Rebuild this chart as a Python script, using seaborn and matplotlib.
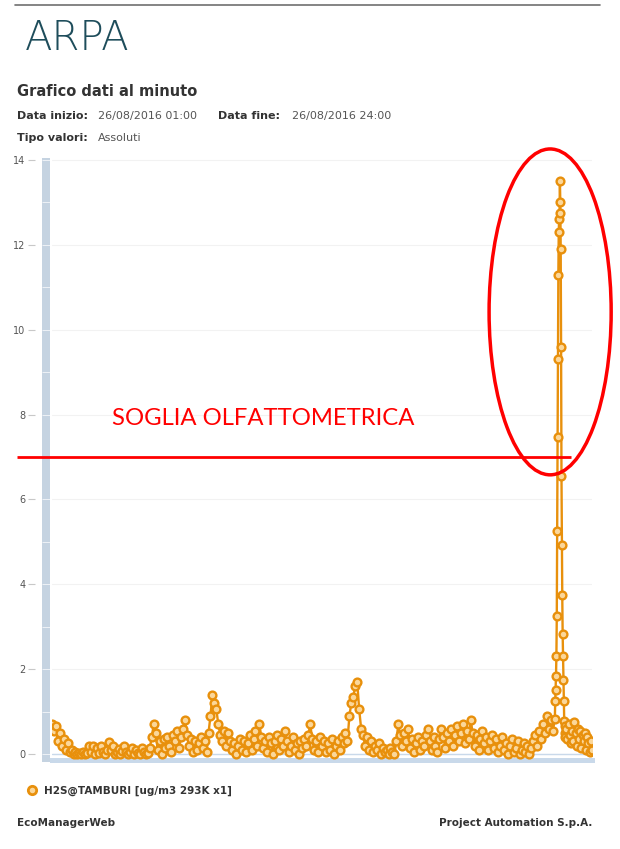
import pandas as pd
import seaborn as sns
import matplotlib.pyplot as plt
from matplotlib.patches import Ellipse, Rectangle
from matplotlib.lines import Line2D

# H2S minute values, 26/08/2016 01:00 -> 24:00 (minutes from start)
base_h2s = [
    0.7, 0.55, 0.65, 0.3, 0.5, 0.2, 0.35, 0.1, 0.25, 0.05,
    0.1, 0.0, 0.05, 0.0, 0.02, 0.0, 0.05, 0.0, 0.03, 0.18,
    0.05, 0.2, 0.0, 0.15, 0.02, 0.2, 0.05, 0.0, 0.1, 0.28,
    0.1, 0.2, 0.0, 0.05, 0.12, 0.0, 0.08, 0.2, 0.05, 0.0,
    0.05, 0.15, 0.0, 0.1, 0.02, 0.0, 0.15, 0.05, 0.0, 0.02,
    0.15, 0.4, 0.7, 0.5, 0.1, 0.3, 0.0, 0.35, 0.15, 0.4,
    0.2, 0.05, 0.45, 0.3, 0.55, 0.15, 0.4, 0.6, 0.8, 0.45,
    0.2, 0.35, 0.05, 0.3, 0.1, 0.25, 0.4, 0.15, 0.3, 0.05,
    0.5, 0.9, 1.4, 1.2, 1.05, 0.7, 0.45, 0.3, 0.55, 0.2,
    0.5, 0.3, 0.1, 0.25, 0.0, 0.2, 0.35, 0.1, 0.3, 0.05,
    0.25, 0.45, 0.1, 0.35, 0.55, 0.2, 0.7, 0.4, 0.15, 0.3,
    0.05, 0.4, 0.25, 0.0, 0.3, 0.45, 0.1, 0.35, 0.2, 0.55,
    0.3, 0.05, 0.2, 0.4, 0.1, 0.25, 0.0, 0.3, 0.15, 0.35,
    0.2, 0.45, 0.7, 0.35, 0.1, 0.3, 0.05, 0.4, 0.2, 0.3,
    0.05, 0.25, 0.1, 0.35, 0.0, 0.2, 0.3, 0.1, 0.4, 0.25,
    0.5, 0.3, 0.9, 1.2, 1.35, 1.6, 1.7, 1.05, 0.6, 0.45,
    0.2, 0.4, 0.1, 0.3, 0.05, 0.2, 0.1, 0.25, 0.0, 0.15,
    0.05, 0.1, 0.0, 0.15, 0.05, 0.0, 0.3, 0.7, 0.45, 0.2,
    0.5, 0.3, 0.6, 0.15, 0.35, 0.05, 0.25, 0.4, 0.1, 0.3,
    0.2, 0.45, 0.6, 0.3, 0.1, 0.4, 0.2, 0.05, 0.35, 0.6,
    0.4, 0.15, 0.5, 0.3, 0.6, 0.2, 0.45, 0.65, 0.3, 0.5,
    0.7, 0.25, 0.55, 0.35, 0.8, 0.5, 0.2, 0.45, 0.1, 0.35,
    0.55, 0.25, 0.4, 0.1, 0.3, 0.45, 0.15, 0.35, 0.05, 0.2,
    0.4, 0.1, 0.25, 0.0, 0.2, 0.35, 0.05, 0.15, 0.3, 0.0,
    0.1, 0.25, 0.05, 0.2, 0.0, 0.15, 0.3, 0.45, 0.2, 0.55,
    0.35, 0.7, 0.5, 0.9, 0.6, 0.8, 0.55, 0.82,
]
spike_h2s = [
    1.24, 1.52, 1.85, 2.3, 3.25, 5.26, 7.48, 9.3, 11.3, 12.3, 12.6, 12.75, 13.5,
    13.0, 11.9, 9.6, 6.55, 4.93, 3.74, 2.83, 2.3, 1.75, 1.24, 0.78,
    0.5, 0.65, 0.4,
]
tail_h2s = [
    0.6, 0.35, 0.7, 0.45, 0.25, 0.55, 0.3, 0.75, 0.5, 0.2, 0.6, 0.35,
    0.55, 0.15, 0.45, 0.3, 0.5, 0.1, 0.4, 0.25, 0.05, 0.3, 0.1,
]
base_min = list(range(0, 1290, 5))
spike_min = list(range(1286, 1313))
tail_min = list(range(1314, 1381, 3))

soglia = 7.0
serie = "H2S@TAMBURI [ug/m3 293K x1]"

df = pd.DataFrame({
    "minuto": base_min + spike_min + tail_min,
    "h2s": base_h2s + spike_h2s + tail_h2s,
})

sns.set_theme(style="white")
plt.rcParams["font.family"] = ["DejaVu Sans"]

W, H = 620, 849
def fx(px):
    return px / W
def fy(py):
    return 1 - py / H

orange = "#e8900c"
fig = plt.figure(figsize=(6.2, 8.49), dpi=100)
ax = fig.add_axes([fx(52), fy(760), 540 / W, 602 / H])

sns.lineplot(data=df, x="minuto", y="h2s", ax=ax, color=orange, lw=1.7,
             marker="o", markersize=5.6, markerfacecolor="#fbd79a",
             markeredgecolor=orange, markeredgewidth=1.7,
             sort=False, estimator=None, zorder=3)

ax.set_xlim(0, 1380)
ax.set_ylim(-0.141, 14.047)
ax.set_xticks([])
ax.set_yticks(range(0, 15, 2))
ax.set_xlabel("")
ax.set_ylabel("")
for s in ["top", "right"]:
    ax.spines[s].set_visible(False)
ax.spines["left"].set_position(("outward", 12))
ax.spines["left"].set_visible(False)
ax.spines["bottom"].set_color("#c9d9ea")
ax.spines["bottom"].set_linewidth(3.6)
ax.tick_params(axis="y", left=True, length=5, width=0.8, color="#c8c8c8",
               labelsize=7, labelcolor="#555555", pad=2)
ax.yaxis.grid(True, color="#f2f2f2", lw=0.8)
ax.set_axisbelow(True)
ax.axhline(0, color="#c9d9ea", lw=1, zorder=1)

# y axis bar
yt = ax.get_yaxis_transform()
ax.add_patch(Rectangle((-10 / 540, -0.19), 8 / 540, 14.24, transform=yt,
                       facecolor="#c5d3e1", edgecolor="none", clip_on=False))
ax.hlines(range(0, 15), -10 / 540, -2 / 540, transform=yt, colors="white",
          lw=0.7, alpha=0.7, clip_on=False)

# threshold annotation
ax.hlines(soglia, -35 / 540, 519 / 540, transform=yt, colors="red", lw=2,
          clip_on=False, zorder=5)
ax.add_patch(Ellipse((1273, 10.42), 312, 7.68, fill=False, edgecolor="red",
                     lw=2.5, clip_on=False, zorder=6))
fig.text(fx(112), fy(419), "SOGLIA OLFATTOMETRICA", color="red", fontsize=17.2,
         family=["Lato", "DejaVu Sans"], va="center", ha="left")

# header
fig.add_artist(Line2D([fx(15), fx(600)], [fy(5), fy(5)], color="#707070", lw=1.2))
fig.text(fx(25), fy(39), "ARPA", fontsize=29, color="#1e4d5b",
         fontweight="light", va="center")
fig.text(fx(17), fy(92), "Grafico dati al minuto", fontsize=10.5,
         fontweight="bold", color="#333333", va="center")
fig.text(fx(17), fy(116), "Data inizio:", fontsize=8, fontweight="bold",
         color="#333333", va="center")
fig.text(fx(98), fy(116), "26/08/2016 01:00", fontsize=8, color="#555555", va="center")
fig.text(fx(218), fy(116), "Data fine:", fontsize=8, fontweight="bold",
         color="#333333", va="center")
fig.text(fx(292), fy(116), "26/08/2016 24:00", fontsize=8, color="#555555", va="center")
fig.text(fx(17), fy(138), "Tipo valori:", fontsize=8, fontweight="bold",
         color="#333333", va="center")
fig.text(fx(98), fy(138), "Assoluti", fontsize=8, color="#555555", va="center")

# legend
h = Line2D([], [], marker="o", ls="", markersize=6, markerfacecolor="#fbd79a",
           markeredgecolor=orange, markeredgewidth=2)
leg = fig.legend([h], [serie], loc="center left", bbox_to_anchor=(fx(22), fy(791)),
                 frameon=False, prop=dict(weight="bold", size=7.5),
                 handletextpad=0.6, borderpad=0, handlelength=1)
for t in leg.get_texts():
    t.set_color("#333333")

# footer
fig.text(fx(17), fy(823), "EcoManagerWeb", fontsize=7.5, fontweight="bold",
         color="#333333", va="center")
fig.text(fx(592), fy(823), "Project Automation S.p.A.", fontsize=7.5,
         fontweight="bold", color="#333333", va="center", ha="right")

fig.savefig("out.png", dpi=100)
